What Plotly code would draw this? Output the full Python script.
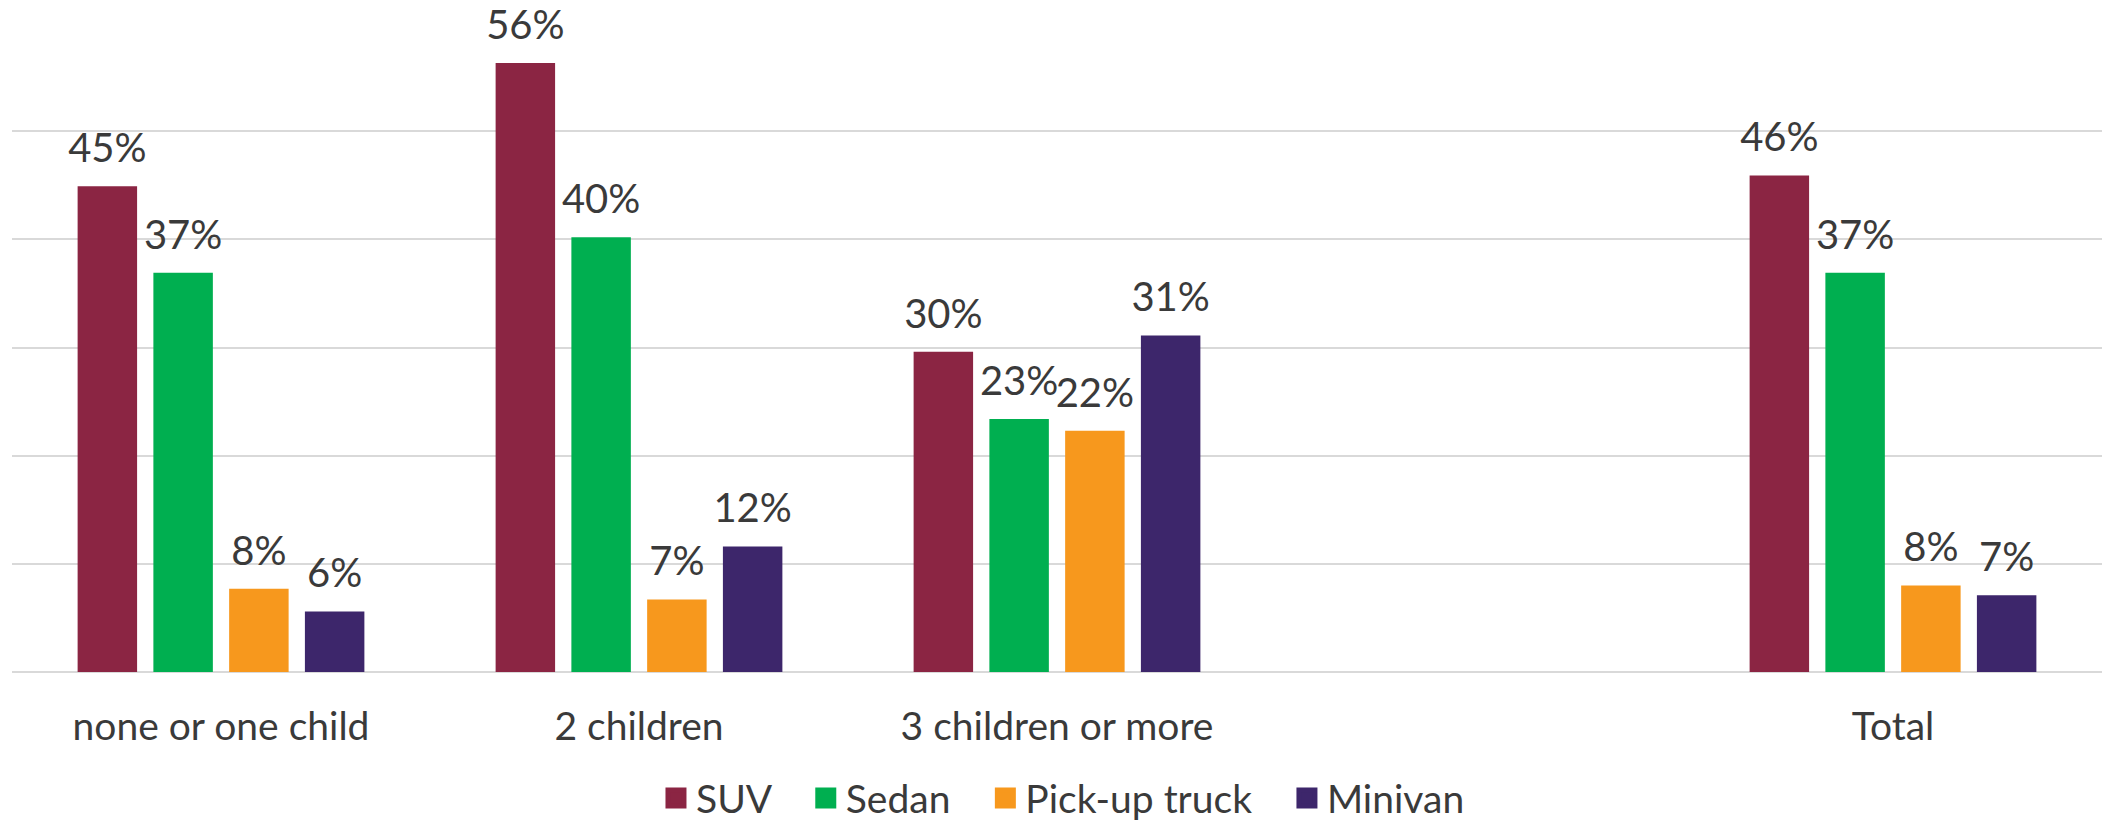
import plotly.graph_objects as go

categories = ["none or one child", "2 children", "3 children or more", " ", "Total"]
series_names = ["SUV", "Sedan", "Pick-up truck", "Minivan"]
suv = [44.9, 56.3, 29.6, None, 45.9]
sedan = [36.9, 40.2, 23.4, None, 36.9]
pickup = [7.7, 6.7, 22.3, None, 8.0]
minivan = [5.6, 11.6, 31.1, None, 7.1]
colors = ["#8B2543", "#00AF50", "#F7981D", "#3D266B"]

FONT = "Lato"
TXT = "#3a3a3a"
values = [suv, sedan, pickup, minivan]
NBSP = "\u00a0"

fig = go.Figure()
for name, vals, col in zip(series_names, values, colors):
    fig.add_trace(go.Bar(
        x=categories, y=vals, name=name, marker=dict(color=col, line=dict(width=0)),
        showlegend=False, hoverinfo="skip",
    ))
for name, vals, col in zip(series_names, values, colors):
    fig.add_trace(go.Scatter(
        x=categories, y=vals, mode="markers+text",
        texttemplate="%{y:.0f}%", textposition="top center",
        textfont=dict(family=FONT, size=40, color=TXT),
        marker=dict(size=21, opacity=0, color=col),
        showlegend=False, hoverinfo="skip", cliponaxis=False,
    ))
# legend entries
for i, (name, col) in enumerate(zip(series_names, colors)):
    label = name + (NBSP * 3 if i < len(series_names) - 1 else "")
    fig.add_trace(go.Scatter(
        x=[None], y=[None], mode="markers", name=label,
        marker=dict(symbol="square", size=16, color=col, line=dict(width=5, color=col)),
        xaxis="x2", yaxis="y2", hoverinfo="skip",
    ))

fig.update_layout(
    width=2102, height=822,
    margin=dict(l=12, r=0, t=23, b=150, autoexpand=False),
    paper_bgcolor="white", plot_bgcolor="white",
    barmode="group", bargap=0.275, bargroupgap=0.215,
    scattermode="group", scattergap=0.275,
    font=dict(family=FONT, color=TXT),
    xaxis=dict(
        type="category", showgrid=False, zeroline=False, showline=False,
        ticks="", tickfont=dict(family=FONT, size=39, color=TXT),
        ticklabelstandoff=28, automargin=False,
    ),
    yaxis=dict(
        range=[0, 60], dtick=10, showticklabels=False, ticks="",
        showgrid=True, gridcolor="#D9D9D9", gridwidth=1.5, automargin=False,
        zeroline=True, zerolinecolor="#D9D9D9", zerolinewidth=1.5, showline=False,
    ),
    xaxis2=dict(overlaying="x", visible=False, range=[0, 1]),
    yaxis2=dict(overlaying="y", visible=False, range=[0, 1]),
    legend=dict(
        orientation="h", xref="container", yref="container",
        x=0.5057, xanchor="center", y=0.029, yanchor="middle",
        font=dict(family=FONT, size=39, color=TXT), itemwidth=30,
        bgcolor="rgba(0,0,0,0)",
    ),
)

fig.write_html("out.html")
